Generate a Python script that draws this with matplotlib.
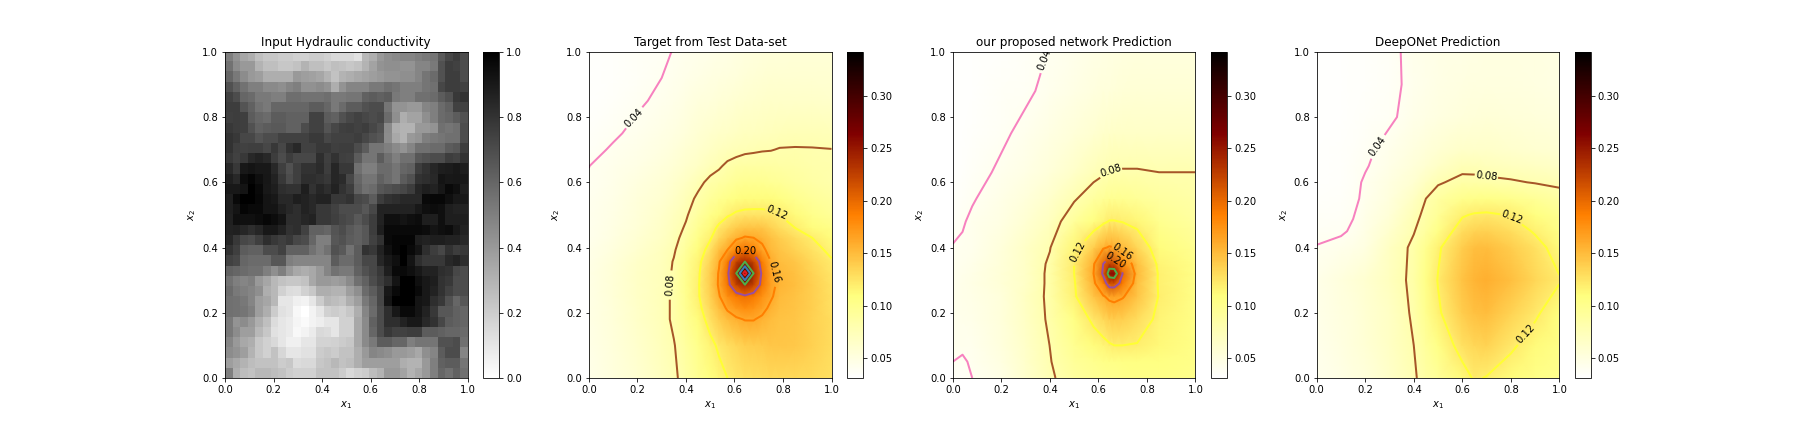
import matplotlib

matplotlib.use("Agg")
import matplotlib.pyplot as plt
import numpy as np

LEVELS = [0.04, 0.08, 0.12, 0.16, 0.20, 0.24, 0.28, 0.32]
LEVEL_COLORS = ["#f781bf", "#a65628", "#ffff33", "#ff7f00", "#984ea3", "#4daf4a", "#377eb8", "#e41a1c"]
VMIN = 0.031
VMAX = 0.342

TITLES = [
    "Input Hydraulic conductivity",
    "Target from Test Data-set",
    "our proposed network Prediction",
    "DeepONet Prediction",
]

# grey level of each input cell in percent, top row first (100 = white)
INPUT_BRIGHTNESS = [
    [50, 58, 65, 68, 75, 78, 78, 80, 80, 82, 82, 80, 80, 82, 85, 85, 85, 88, 72, 68, 60, 56, 54, 52, 52, 50, 48, 46, 35, 28, 24, 30],
    [45, 55, 60, 60, 70, 75, 75, 78, 78, 76, 70, 75, 75, 78, 75, 76, 78, 76, 70, 64, 58, 56, 56, 58, 58, 52, 52, 48, 32, 24, 26, 30],
    [40, 48, 55, 60, 62, 68, 68, 68, 68, 60, 62, 63, 65, 70, 76, 70, 68, 66, 64, 62, 60, 58, 58, 56, 56, 52, 46, 42, 32, 24, 24, 30],
    [32, 38, 45, 50, 50, 54, 54, 56, 52, 50, 57, 57, 55, 58, 68, 58, 52, 52, 52, 48, 48, 44, 46, 50, 50, 50, 46, 44, 28, 24, 24, 26],
    [26, 30, 40, 42, 48, 48, 50, 50, 43, 43, 45, 45, 45, 43, 48, 48, 46, 46, 38, 36, 38, 36, 48, 50, 50, 44, 44, 42, 36, 32, 22, 20],
    [24, 24, 33, 38, 45, 48, 40, 40, 40, 40, 40, 36, 36, 40, 48, 42, 36, 36, 32, 30, 30, 46, 58, 58, 60, 60, 52, 50, 42, 38, 26, 26],
    [25, 24, 25, 36, 40, 42, 36, 36, 38, 38, 38, 26, 26, 36, 38, 32, 28, 26, 28, 30, 28, 42, 56, 68, 64, 64, 56, 50, 42, 40, 36, 32],
    [22, 24, 25, 32, 38, 36, 35, 35, 38, 38, 30, 26, 26, 33, 28, 25, 24, 26, 24, 28, 32, 54, 68, 70, 70, 60, 60, 58, 44, 46, 44, 30],
    [20, 22, 28, 28, 33, 30, 30, 26, 26, 26, 26, 23, 23, 28, 26, 26, 26, 24, 28, 32, 34, 55, 66, 70, 60, 58, 50, 48, 46, 44, 44, 30],
    [20, 25, 26, 25, 25, 28, 22, 28, 20, 16, 26, 26, 22, 22, 25, 24, 24, 30, 36, 46, 46, 50, 54, 58, 52, 44, 44, 42, 42, 36, 34, 24],
    [22, 26, 22, 16, 14, 16, 24, 30, 24, 28, 28, 28, 18, 25, 20, 25, 26, 36, 46, 46, 36, 44, 50, 44, 44, 34, 32, 30, 30, 24, 26, 20],
    [16, 22, 10, 8, 10, 10, 16, 25, 32, 25, 20, 20, 17, 24, 15, 22, 22, 44, 50, 50, 42, 42, 46, 40, 38, 24, 20, 15, 12, 11, 10, 12],
    [12, 16, 5, 2, 6, 9, 14, 22, 30, 25, 18, 18, 20, 22, 15, 17, 28, 40, 46, 46, 38, 42, 46, 36, 32, 20, 18, 16, 8, 10, 9, 10],
    [10, 10, 8, 0, 4, 10, 12, 18, 20, 20, 12, 20, 15, 18, 14, 20, 24, 38, 44, 42, 34, 32, 30, 28, 24, 15, 12, 14, 9, 4, 6, 12],
    [12, 4, 0, 0, 3, 8, 10, 16, 16, 12, 14, 16, 14, 14, 22, 22, 20, 28, 30, 36, 24, 20, 18, 16, 16, 16, 4, 3, 3, 6, 10, 10],
    [12, 8, 2, 4, 4, 8, 8, 13, 16, 18, 14, 16, 22, 22, 26, 30, 30, 30, 34, 28, 14, 14, 14, 14, 14, 10, 6, 5, 6, 12, 14, 14],
    [13, 6, 7, 7, 5, 3, 5, 8, 18, 18, 15, 14, 22, 22, 25, 28, 30, 35, 30, 24, 14, 6, 6, 8, 6, 5, 12, 12, 6, 12, 12, 12],
    [14, 13, 15, 18, 15, 10, 10, 14, 20, 18, 26, 38, 38, 40, 33, 30, 35, 38, 34, 24, 12, 4, 4, 4, 4, 4, 5, 8, 6, 5, 10, 14],
    [15, 22, 28, 30, 25, 18, 22, 25, 22, 28, 30, 40, 50, 50, 34, 32, 36, 38, 34, 26, 20, 4, 2, 2, 2, 12, 14, 12, 12, 14, 14, 16],
    [20, 25, 36, 38, 38, 30, 30, 26, 38, 38, 38, 45, 50, 45, 32, 35, 45, 36, 20, 22, 14, 6, 2, 0, 4, 8, 18, 24, 28, 20, 24, 22],
    [26, 28, 40, 42, 42, 42, 34, 34, 50, 52, 52, 52, 52, 52, 36, 42, 42, 36, 28, 28, 15, 10, 6, 0, 8, 18, 22, 22, 22, 16, 14, 18],
    [38, 40, 42, 44, 44, 50, 56, 50, 60, 66, 68, 66, 60, 52, 45, 48, 48, 38, 32, 28, 22, 12, 4, 4, 6, 10, 14, 14, 18, 20, 28, 30],
    [45, 50, 52, 50, 60, 65, 72, 76, 78, 78, 76, 66, 60, 60, 62, 60, 54, 44, 38, 30, 24, 18, 8, 0, 0, 6, 10, 12, 20, 22, 30, 30],
    [42, 48, 50, 52, 56, 68, 72, 82, 86, 87, 82, 78, 68, 68, 70, 70, 62, 56, 42, 36, 28, 10, 4, 0, 0, 4, 10, 14, 20, 26, 30, 30],
    [44, 45, 47, 52, 62, 65, 72, 90, 90, 94, 95, 90, 80, 72, 74, 76, 68, 62, 48, 40, 28, 8, 0, 0, 0, 8, 10, 18, 22, 32, 40, 34],
    [44, 45, 46, 50, 62, 68, 80, 88, 90, 97, 100, 95, 90, 82, 80, 82, 78, 68, 52, 42, 30, 18, 10, 4, 4, 8, 14, 22, 34, 34, 38, 40],
    [48, 58, 55, 60, 68, 75, 86, 90, 92, 96, 98, 95, 93, 90, 90, 82, 82, 66, 54, 38, 30, 18, 18, 14, 10, 10, 16, 20, 28, 36, 38, 40],
    [48, 55, 62, 62, 72, 78, 88, 90, 92, 97, 95, 92, 85, 86, 90, 82, 82, 66, 54, 40, 30, 22, 26, 26, 24, 24, 36, 36, 38, 40, 40, 42],
    [52, 60, 66, 68, 78, 82, 85, 90, 94, 94, 90, 90, 83, 83, 82, 80, 78, 66, 54, 48, 36, 36, 40, 40, 50, 46, 46, 46, 32, 32, 30, 44],
    [55, 58, 62, 70, 78, 82, 76, 84, 90, 90, 88, 88, 80, 78, 80, 76, 76, 68, 60, 52, 54, 56, 60, 60, 62, 66, 56, 52, 36, 30, 30, 52],
    [62, 66, 70, 74, 76, 76, 76, 80, 78, 86, 85, 85, 78, 76, 72, 76, 74, 68, 62, 62, 62, 62, 62, 68, 70, 70, 60, 50, 38, 36, 36, 46],
    [50, 68, 74, 76, 72, 72, 74, 76, 80, 82, 82, 82, 76, 76, 76, 80, 85, 82, 80, 74, 70, 60, 60, 64, 70, 66, 60, 50, 40, 44, 38, 44],
]

TARGET_X = [0, 0.1, 0.2, 0.3, 0.35, 0.4, 0.45, 0.5, 0.536, 0.571, 0.607, 0.643, 0.679, 0.714, 0.75, 0.786, 0.85, 0.92, 1]
TARGET_Y = [0, 0.1, 0.18, 0.214, 0.25, 0.286, 0.321, 0.357, 0.393, 0.43, 0.46, 0.5, 0.55, 0.6, 0.65, 0.7, 0.75, 0.85, 0.92, 1]
TARGET_VALUES = [
    [0.045, 0.052, 0.060, 0.071, 0.077, 0.086, 0.097, 0.108, 0.114, 0.120, 0.124, 0.127, 0.129, 0.130, 0.132, 0.133, 0.133, 0.131, 0.127],
    [0.046, 0.053, 0.062, 0.073, 0.079, 0.090, 0.102, 0.115, 0.123, 0.129, 0.134, 0.138, 0.140, 0.141, 0.143, 0.143, 0.142, 0.137, 0.130],
    [0.047, 0.055, 0.064, 0.074, 0.083, 0.096, 0.111, 0.127, 0.140, 0.150, 0.157, 0.161, 0.161, 0.156, 0.150, 0.146, 0.143, 0.137, 0.130],
    [0.047, 0.055, 0.065, 0.074, 0.083, 0.098, 0.115, 0.132, 0.148, 0.163, 0.172, 0.178, 0.175, 0.167, 0.155, 0.148, 0.144, 0.138, 0.128],
    [0.047, 0.056, 0.066, 0.074, 0.083, 0.100, 0.118, 0.137, 0.158, 0.177, 0.190, 0.196, 0.190, 0.176, 0.163, 0.151, 0.146, 0.138, 0.127],
    [0.047, 0.056, 0.066, 0.073, 0.083, 0.101, 0.118, 0.140, 0.163, 0.192, 0.222, 0.240, 0.222, 0.192, 0.167, 0.154, 0.148, 0.138, 0.126],
    [0.047, 0.056, 0.066, 0.073, 0.082, 0.100, 0.117, 0.140, 0.162, 0.195, 0.240, 0.340, 0.240, 0.195, 0.165, 0.153, 0.147, 0.136, 0.124],
    [0.046, 0.055, 0.065, 0.072, 0.081, 0.097, 0.115, 0.135, 0.157, 0.190, 0.222, 0.240, 0.222, 0.188, 0.160, 0.150, 0.143, 0.133, 0.1215],
    [0.045, 0.052, 0.061, 0.070, 0.078, 0.092, 0.110, 0.127, 0.148, 0.160, 0.186, 0.195, 0.186, 0.165, 0.152, 0.144, 0.136, 0.126, 0.116],
    [0.043, 0.050, 0.058, 0.067, 0.075, 0.086, 0.103, 0.118, 0.132, 0.145, 0.155, 0.162, 0.160, 0.155, 0.147, 0.140, 0.130, 0.120, 0.111],
    [0.0425, 0.049, 0.056, 0.066, 0.073, 0.082, 0.097, 0.112, 0.124, 0.133, 0.141, 0.146, 0.146, 0.144, 0.137, 0.130, 0.120, 0.110, 0.104],
    [0.042, 0.048, 0.055, 0.063, 0.070, 0.078, 0.090, 0.103, 0.111, 0.118, 0.123, 0.125, 0.125, 0.125, 0.124, 0.120, 0.112, 0.102, 0.095],
    [0.0413, 0.0465, 0.053, 0.060, 0.066, 0.074, 0.083, 0.092, 0.098, 0.103, 0.108, 0.110, 0.111, 0.111, 0.110, 0.107, 0.100, 0.094, 0.089],
    [0.0407, 0.045, 0.051, 0.057, 0.062, 0.068, 0.076, 0.084, 0.087, 0.091, 0.096, 0.098, 0.098, 0.098, 0.096, 0.095, 0.090, 0.086, 0.083],
    [0.0399, 0.0435, 0.048, 0.053, 0.057, 0.062, 0.067, 0.074, 0.078, 0.083, 0.086, 0.088, 0.088, 0.088, 0.087, 0.0865, 0.0855, 0.083, 0.081],
    [0.037, 0.0412, 0.045, 0.050, 0.054, 0.058, 0.062, 0.067, 0.070, 0.073, 0.075, 0.077, 0.078, 0.079, 0.0795, 0.0807, 0.081, 0.0808, 0.0803],
    [0.035, 0.0385, 0.0425, 0.047, 0.050, 0.054, 0.058, 0.062, 0.064, 0.066, 0.068, 0.070, 0.071, 0.072, 0.0735, 0.0745, 0.075, 0.075, 0.074],
    [0.033, 0.035, 0.0385, 0.042, 0.045, 0.049, 0.052, 0.054, 0.056, 0.057, 0.059, 0.061, 0.062, 0.063, 0.064, 0.065, 0.065, 0.065, 0.063],
    [0.033, 0.034, 0.0365, 0.040, 0.0425, 0.045, 0.048, 0.050, 0.051, 0.052, 0.054, 0.056, 0.057, 0.058, 0.059, 0.060, 0.060, 0.060, 0.059],
    [0.033, 0.034, 0.036, 0.038, 0.0405, 0.0425, 0.044, 0.045, 0.047, 0.048, 0.050, 0.051, 0.052, 0.053, 0.055, 0.055, 0.056, 0.056, 0.056],
]
TARGET_LABELS = [(0.19, 0.795), (0.335, 0.285), (0.775, 0.51), (0.78, 0.33), (0.643, 0.385)]

PROPOSED_X = [0, 0.04, 0.08, 0.2, 0.3, 0.4, 0.5, 0.58, 0.62, 0.645, 0.665, 0.7, 0.76, 0.85, 1]
PROPOSED_Y = [0, 0.05, 0.1, 0.18, 0.25, 0.29, 0.32, 0.35, 0.4, 0.48, 0.55, 0.63, 0.75, 0.88, 1]
PROPOSED_VALUES = [
    [0.036, 0.037, 0.040, 0.048, 0.062, 0.077, 0.090, 0.096, 0.098, 0.100, 0.100, 0.102, 0.104, 0.105, 0.102],
    [0.040, 0.0385, 0.0415, 0.050, 0.063, 0.079, 0.094, 0.100, 0.103, 0.104, 0.105, 0.106, 0.107, 0.107, 0.103],
    [0.042, 0.042, 0.043, 0.052, 0.065, 0.0802, 0.098, 0.110, 0.114, 0.118, 0.120, 0.120, 0.119, 0.113, 0.104],
    [0.043, 0.044, 0.045, 0.053, 0.067, 0.083, 0.106, 0.124, 0.133, 0.138, 0.140, 0.138, 0.130, 0.116, 0.105],
    [0.0435, 0.045, 0.046, 0.054, 0.068, 0.084, 0.117, 0.145, 0.158, 0.165, 0.167, 0.162, 0.145, 0.119, 0.105],
    [0.043, 0.045, 0.047, 0.056, 0.066, 0.084, 0.118, 0.155, 0.185, 0.215, 0.215, 0.190, 0.148, 0.118, 0.105],
    [0.0425, 0.044, 0.046, 0.056, 0.066, 0.084, 0.120, 0.160, 0.205, 0.255, 0.260, 0.200, 0.152, 0.118, 0.105],
    [0.042, 0.043, 0.045, 0.055, 0.066, 0.083, 0.120, 0.157, 0.200, 0.225, 0.218, 0.180, 0.148, 0.116, 0.103],
    [0.0405, 0.0415, 0.043, 0.053, 0.066, 0.079, 0.114, 0.140, 0.157, 0.162, 0.160, 0.152, 0.134, 0.110, 0.098],
    [0.037, 0.039, 0.042, 0.049, 0.058, 0.070, 0.092, 0.108, 0.116, 0.121, 0.121, 0.119, 0.114, 0.100, 0.090],
    [0.035, 0.037, 0.039, 0.046, 0.053, 0.063, 0.078, 0.090, 0.095, 0.098, 0.099, 0.098, 0.095, 0.090, 0.085],
    [0.033, 0.034, 0.036, 0.042, 0.048, 0.055, 0.065, 0.074, 0.078, 0.0805, 0.081, 0.0815, 0.0815, 0.0801, 0.0801],
    [0.033, 0.033, 0.034, 0.038, 0.043, 0.049, 0.055, 0.060, 0.063, 0.065, 0.066, 0.066, 0.066, 0.066, 0.066],
    [0.033, 0.033, 0.033, 0.036, 0.038, 0.043, 0.047, 0.051, 0.053, 0.054, 0.055, 0.056, 0.057, 0.057, 0.057],
    [0.033, 0.033, 0.033, 0.034, 0.036, 0.0405, 0.044, 0.047, 0.049, 0.050, 0.050, 0.051, 0.052, 0.052, 0.052],
]
PROPOSED_LABELS = [(0.37, 0.98), (0.65, 0.635), (0.52, 0.385), (0.71, 0.395), (0.675, 0.365)]

DEEPONET_X = [0, 0.1, 0.15, 0.2, 0.3, 0.4, 0.45, 0.5, 0.6, 0.65, 0.7, 0.8, 0.9, 1]
DEEPONET_Y = [0, 0.1, 0.2, 0.3, 0.4, 0.45, 0.5, 0.55, 0.6, 0.65, 0.7, 0.8, 0.9, 1]
DEEPONET_VALUES = [
    [0.043, 0.048, 0.051, 0.054, 0.065, 0.078, 0.086, 0.094, 0.112, 0.122, 0.119, 0.111, 0.104, 0.100],
    [0.044, 0.050, 0.053, 0.057, 0.067, 0.080, 0.092, 0.105, 0.128, 0.134, 0.136, 0.123, 0.112, 0.104],
    [0.045, 0.051, 0.054, 0.058, 0.067, 0.083, 0.100, 0.117, 0.140, 0.147, 0.150, 0.136, 0.123, 0.109],
    [0.045, 0.052, 0.056, 0.060, 0.0705, 0.0845, 0.104, 0.121, 0.146, 0.154, 0.158, 0.148, 0.134, 0.1215],
    [0.0405, 0.0435, 0.046, 0.050, 0.068, 0.084, 0.100, 0.117, 0.140, 0.148, 0.150, 0.140, 0.127, 0.112],
    [0.0375, 0.0385, 0.0415, 0.047, 0.062, 0.079, 0.090, 0.105, 0.130, 0.136, 0.137, 0.130, 0.118, 0.105],
    [0.036, 0.037, 0.0395, 0.0445, 0.056, 0.075, 0.084, 0.095, 0.118, 0.122, 0.123, 0.119, 0.108, 0.098],
    [0.034, 0.0355, 0.038, 0.042, 0.052, 0.068, 0.080, 0.089, 0.101, 0.103, 0.104, 0.101, 0.095, 0.088],
    [0.033, 0.034, 0.037, 0.0415, 0.050, 0.060, 0.069, 0.078, 0.085, 0.0845, 0.084, 0.082, 0.079, 0.076],
    [0.033, 0.034, 0.036, 0.039, 0.046, 0.055, 0.060, 0.066, 0.075, 0.075, 0.073, 0.071, 0.068, 0.066],
    [0.033, 0.034, 0.035, 0.0375, 0.044, 0.051, 0.055, 0.058, 0.064, 0.0645, 0.064, 0.062, 0.060, 0.058],
    [0.033, 0.033, 0.034, 0.035, 0.038, 0.0445, 0.047, 0.050, 0.054, 0.055, 0.056, 0.055, 0.054, 0.052],
    [0.033, 0.033, 0.0335, 0.034, 0.037, 0.043, 0.045, 0.047, 0.050, 0.051, 0.051, 0.051, 0.050, 0.049],
    [0.033, 0.033, 0.0335, 0.034, 0.037, 0.0435, 0.045, 0.046, 0.048, 0.049, 0.050, 0.050, 0.050, 0.049],
]
DEEPONET_LABELS = [(0.25, 0.71), (0.70, 0.625), (0.80, 0.487), (0.835, 0.158)]


def style_axis(axis, title):
    axis.set_title(title)
    axis.set_xlabel("$x_1$")
    axis.set_ylabel("$x_2$")
    axis.set_xlim(0, 1)
    axis.set_ylim(0, 1)


def draw_solution(figure, axis, title, x, y, values, label_points):
    mesh = axis.pcolormesh(x, y, np.array(values), shading="gouraud", cmap="afmhot_r", vmin=VMIN, vmax=VMAX)
    contours = axis.contour(x, y, np.array(values), levels=LEVELS, colors=LEVEL_COLORS, linewidths=2)
    axis.clabel(contours, fmt="%.2f", colors="black", fontsize=10, manual=label_points)
    style_axis(axis, title)
    figure.colorbar(mesh, ax=axis)


def main():
    figure, axes = plt.subplots(1, 4, figsize=(25, 6))
    figure.subplots_adjust(bottom=0.125)

    conductivity = 1 - np.array(INPUT_BRIGHTNESS) / 100
    image = axes[0].imshow(conductivity, extent=[0, 1, 0, 1], aspect="auto", cmap="gray_r", vmin=0, vmax=1)
    style_axis(axes[0], TITLES[0])
    figure.colorbar(image, ax=axes[0])

    draw_solution(figure, axes[1], TITLES[1], TARGET_X, TARGET_Y, TARGET_VALUES, TARGET_LABELS)
    draw_solution(figure, axes[2], TITLES[2], PROPOSED_X, PROPOSED_Y, PROPOSED_VALUES, PROPOSED_LABELS)
    draw_solution(figure, axes[3], TITLES[3], DEEPONET_X, DEEPONET_Y, DEEPONET_VALUES, DEEPONET_LABELS)

    figure.savefig("out.png", dpi=72, facecolor="white")
    plt.close(figure)


if __name__ == "__main__":
    main()
